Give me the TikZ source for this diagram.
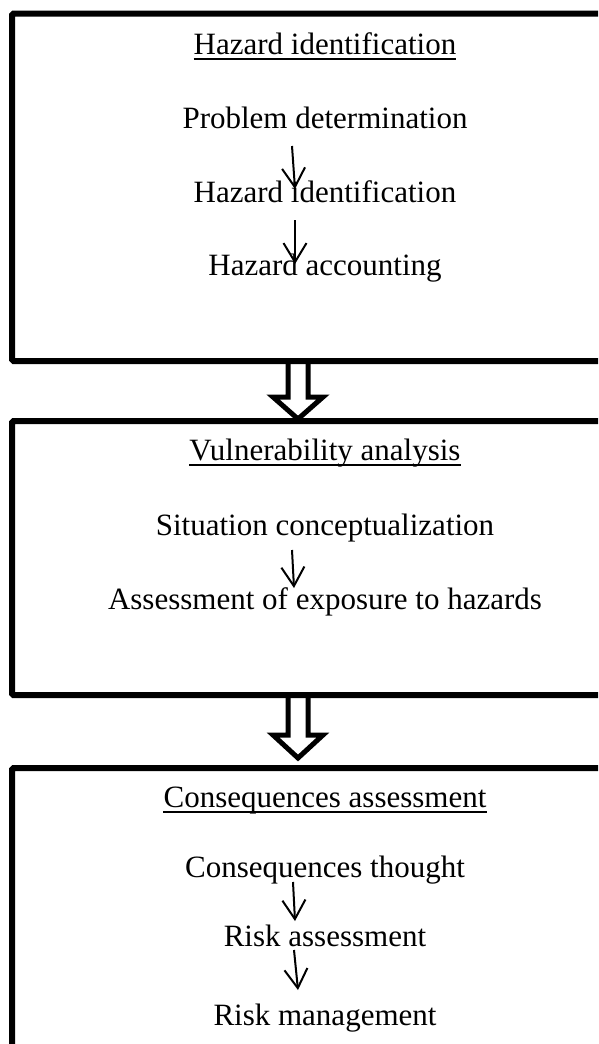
\documentclass[tikz,border=0pt]{standalone}
\usepackage{fontspec}
\setmainfont{Liberation Serif}
\usetikzlibrary{arrows.meta}
\begin{document}
\begin{tikzpicture}[x=1pt,y=-1pt,
  box/.style={draw, line width=6pt, rectangle, rounded corners=1.5pt, inner sep=0pt},
  lbl/.style={font=\fontsize{31}{37}\selectfont, inner sep=0pt, anchor=base},
  uline/.style={line width=2.2pt},
  flow/.style={line width=2pt, -{Straight Barb[length=19pt,width=23pt,line width=2pt]}},
  bigarrow/.style={draw, line width=5pt, fill=white, line join=miter}]
\useasboundingbox (0,0) rectangle (598,1044);
\clip (0,0) rectangle (598,1044);

% hollow arrows between boxes (drawn first, boxes cover their tops)
\coordinate (h1) at (298,361);
\draw[bigarrow] (288,361) -- (288,397) -- (273,397) -- (298,419) -- (323,397) -- (308,397) -- (308,361);
\coordinate (h2) at (298,695);
\draw[bigarrow] (288,695) -- (288,735) -- (273,735) -- (298,758) -- (323,735) -- (308,735) -- (308,695);

% boxes
\node[box, minimum width=648pt, minimum height=347.5pt] (b1) at (336,187.25) {};
\node[box, minimum width=648pt, minimum height=274pt] (b2) at (336,558) {};
\node[box, minimum width=648pt, minimum height=352pt] (b3) at (336,944) {};

% box 1
\node[lbl] (t1) at (325,54) {Hazard identification};
\draw[uline] ([yshift=-5pt]t1.base west) -- ([yshift=-5pt]t1.base east);
\node[lbl] (p1) at (325,128) {Problem determination};
\node[lbl] (p2) at (325,202) {Hazard identification};
\node[lbl] (p3) at (325,275) {Hazard accounting};
\coordinate (a1s) at (292,146); \coordinate (a1e) at (295,189);
\coordinate (a2s) at (295,220); \coordinate (a2e) at (295,264);
\draw[flow] (a1s) -- (a1e);
\draw[flow] (a2s) -- (a2e);

% box 2
\node[lbl] (t2) at (325,460) {Vulnerability analysis};
\draw[uline] ([yshift=-5pt]t2.base west) -- ([yshift=-5pt]t2.base east);
\node[lbl] (q1) at (325,535) {Situation conceptualization};
\node[lbl] (q2) at (325,609) {Assessment of exposure to hazards};
\coordinate (a3s) at (292,550); \coordinate (a3e) at (294,588);
\draw[flow] (a3s) -- (a3e);

% box 3
\node[lbl] (t3) at (325,807) {Consequences assessment};
\draw[uline] ([yshift=-5pt]t3.base west) -- ([yshift=-5pt]t3.base east);
\node[lbl] (r1) at (325,877) {Consequences thought};
\node[lbl] (r2) at (325,946) {Risk assessment};
\node[lbl] (r3) at (325,1025) {Risk management};
\coordinate (a4s) at (293,882); \coordinate (a4e) at (295,921);
\coordinate (a5s) at (294,950); \coordinate (a5e) at (298,990);
\draw[flow] (a4s) -- (a4e);
\draw[flow] (a5s) -- (a5e);
\end{tikzpicture}
\end{document}
